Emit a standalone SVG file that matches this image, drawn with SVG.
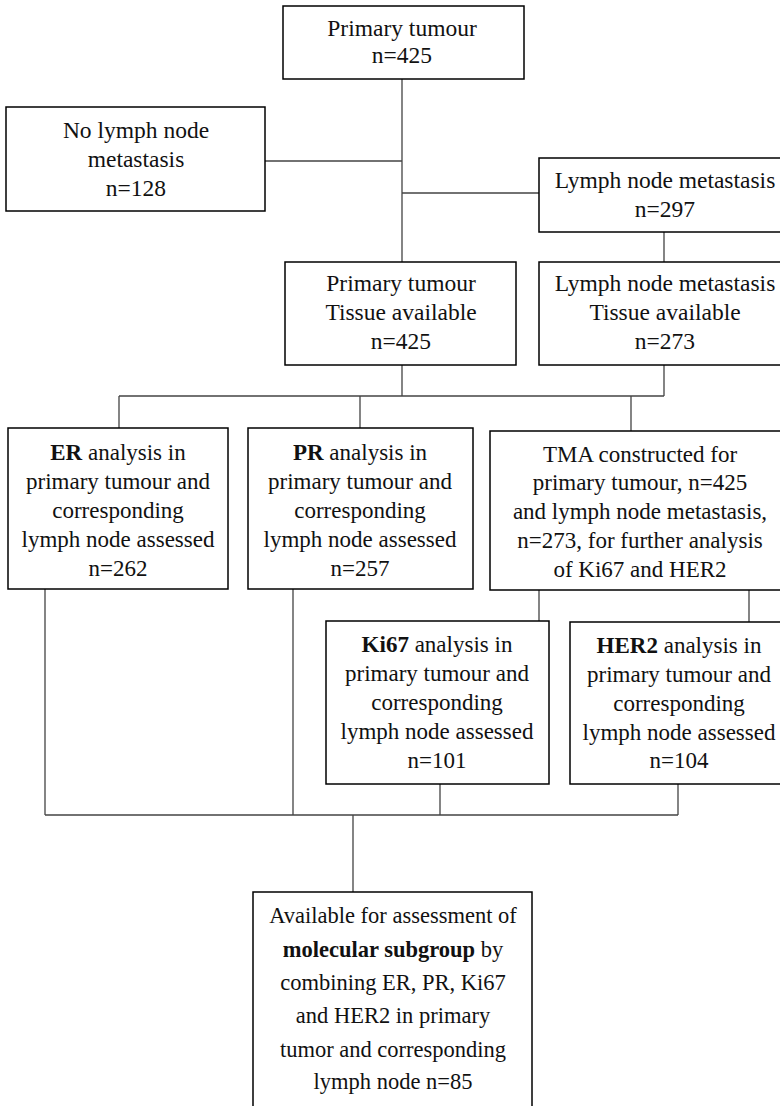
<svg xmlns="http://www.w3.org/2000/svg" width="780" height="1106" viewBox="0 0 780 1106">
<style>
.box{fill:#fff;stroke:#000;stroke-width:1.5}
.con{fill:none;stroke:#444;stroke-width:1.3}
text{font-family:"Liberation Serif","Times New Roman",serif;font-size:23px;fill:#111;text-anchor:middle}
.top text{font-size:23.5px}
.last text{font-size:22.5px}
.b{font-weight:bold}
</style>
<rect width="780" height="1106" fill="#fff"/>
<g id="connectors">
<path class="con" d="M402,79 V262 M265,161 H402 M402,193 H539 M664,232 V262"/>
<path class="con" d="M402,365 V396 M664,365 V396 M119,396 H664 M119,396 V428 M360,396 V428 M631,396 V431"/>
<path class="con" d="M539,590 V621 M749,590 V622"/>
<path class="con" d="M45,589 V815 M293,589 V815 M440,784 V815 M678,784 V815 M45,815 H678 M353,815 V892"/>
</g>
<g id="n1" class="top"><rect class="box" x="283" y="6" width="241" height="73"/>
<text x="402" y="36">Primary tumour</text><text x="402" y="63">n=425</text></g>
<g id="n2" class="top"><rect class="box" x="6" y="107" width="259" height="104"/>
<text x="136" y="138">No lymph node</text><text x="136" y="167">metastasis</text><text x="136" y="196">n=128</text></g>
<g id="n3" class="top"><rect class="box" x="539" y="158" width="252" height="74"/>
<text x="665" y="188">Lymph node metastasis</text><text x="665" y="217">n=297</text></g>
<g id="n4" class="top"><rect class="box" x="285" y="262" width="231" height="103"/>
<text x="401" y="291">Primary tumour</text><text x="401" y="320">Tissue available</text><text x="401" y="349">n=425</text></g>
<g id="n5" class="top"><rect class="box" x="539" y="262" width="252" height="103"/>
<text x="665" y="291">Lymph node metastasis</text><text x="665" y="320">Tissue available</text><text x="665" y="349">n=273</text></g>
<g id="n6"><rect class="box" x="8" y="428" width="220" height="161"/>
<text x="118" y="460"><tspan class="b">ER</tspan> analysis in</text><text x="118" y="489">primary tumour and</text><text x="118" y="518">corresponding</text><text x="118" y="547">lymph node assessed</text><text x="118" y="576">n=262</text></g>
<g id="n7"><rect class="box" x="248" y="428" width="225" height="161"/>
<text x="360" y="460"><tspan class="b">PR</tspan> analysis in</text><text x="360" y="489">primary tumour and</text><text x="360" y="518">corresponding</text><text x="360" y="547">lymph node assessed</text><text x="360" y="576">n=257</text></g>
<g id="n8"><rect class="box" x="490" y="431" width="300" height="159"/>
<text x="640" y="462">TMA constructed for</text><text x="640" y="490">primary tumour, n=425</text><text x="640" y="519">and lymph node metastasis,</text><text x="640" y="548">n=273, for further analysis</text><text x="640" y="577">of Ki67 and HER2</text></g>
<g id="n9"><rect class="box" x="326" y="621" width="223" height="163"/>
<text x="437" y="652"><tspan class="b">Ki67</tspan> analysis in</text><text x="437" y="681">primary tumour and</text><text x="437" y="710">corresponding</text><text x="437" y="739">lymph node assessed</text><text x="437" y="768">n=101</text></g>
<g id="n10"><rect class="box" x="570" y="622" width="218" height="162"/>
<text x="679" y="653"><tspan class="b">HER2</tspan> analysis in</text><text x="679" y="682">primary tumour and</text><text x="679" y="711">corresponding</text><text x="679" y="740">lymph node assessed</text><text x="679" y="768">n=104</text></g>
<g id="n11" class="last"><rect class="box" x="253" y="892" width="279" height="230"/>
<text x="393" y="923">Available for assessment of</text><text x="393" y="957"><tspan class="b">molecular subgroup</tspan> by</text><text x="393" y="990">combining ER, PR, Ki67</text><text x="393" y="1023">and HER2 in primary</text><text x="393" y="1057">tumor and corresponding</text><text x="393" y="1089">lymph node n=85</text></g>
</svg>
